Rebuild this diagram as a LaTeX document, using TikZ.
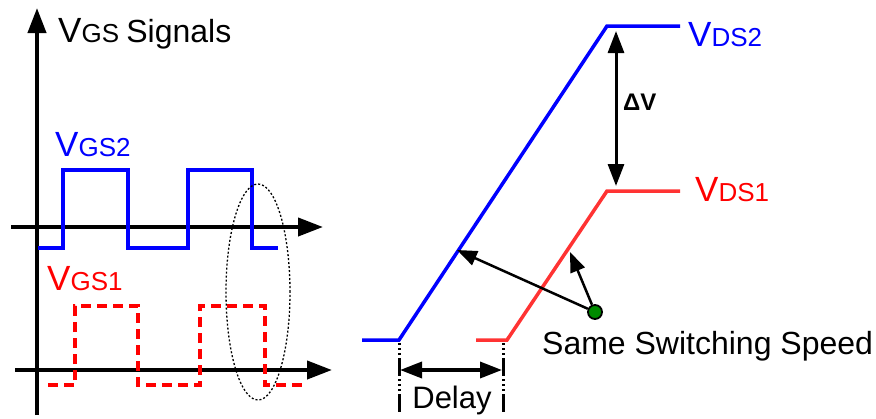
\documentclass[tikz,border=0pt]{standalone}
\usepackage{fontspec}
\setmainfont{Liberation Sans}
\usetikzlibrary{arrows.meta,shapes.geometric}
\definecolor{sigblue}{RGB}{0,0,255}
\definecolor{sigred}{RGB}{255,0,0}
\definecolor{vdsred}{RGB}{255,51,51}
\definecolor{dotgreen}{RGB}{0,140,0}
\newcommand{\bigV}[1]{{\fontsize{35}{40}\selectfont #1}}
\newcommand{\smallsub}[1]{{\fontsize{26}{30}\selectfont #1}}
\begin{document}
\begin{tikzpicture}[x=1pt,y=-1pt,
  axis/.style={line width=4pt,-{Triangle[length=25pt,width=18pt]}},
  blueline/.style={sigblue,line width=3.5pt,line join=miter},
  redline/.style={vdsred,line width=3.5pt},
  reddash/.style={sigred,line width=3.5pt,dash pattern=on 10pt off 6pt},
  dimarrow/.style={line width=3pt,{Triangle[length=22pt,width=16pt]}-{Triangle[length=22pt,width=16pt]}},
  ptrarrow/.style={line width=2.5pt,-{Triangle[length=20pt,width=15pt]}},
  lbl/.style={inner sep=0pt,anchor=base west},
  guide/.style={line width=3pt,dash pattern=on 2pt off 3pt on 2pt off 3pt on 2pt off 3pt on 18pt off 3pt}]
\useasboundingbox (0,0) rectangle (876,418);

% ---- left panel axes
\coordinate (yb) at (37,415);
\coordinate (yt) at (37,8);
\draw[axis] (yb) -- (yt);
\coordinate (a1s) at (11,227);
\coordinate (a1e) at (323,227);
\draw[axis] (a1s) -- (a1e);
\coordinate (a2s) at (15,370);
\coordinate (a2e) at (332,370);
\draw[axis] (a2s) -- (a2e);

% ---- VGS2 (blue)
\draw[blueline] (38,248) -- (63,248) -- (63,170) -- (128,170) -- (128,248) -- (188,248) -- (188,170) -- (252,170) -- (252,248) -- (278,248);
% ---- VGS1 (red dashed)
\draw[reddash] (48,385) -- (75,385) -- (75,306) -- (138,306) -- (138,385) -- (200,385) -- (200,306) -- (265,306) -- (265,385) -- (302,385);

% ---- dotted ellipse
\node[draw,dash pattern=on 2pt off 2pt,line width=1.3pt,ellipse,minimum width=64pt,minimum height=216pt,inner sep=0pt] (ell) at (258,292) {};

% ---- labels left
\node[lbl] (title) at (58,42) {\bigV{V}\smallsub{GS }{\fontsize{32}{36}\selectfont Signals}};
\node[lbl,text=sigblue] (vgs2) at (55,156) {\bigV{V}\smallsub{GS2}};
\node[lbl,text=sigred] (vgs1) at (47,290) {\bigV{V}\smallsub{GS1}};

% ---- right panel: VDS curves
\coordinate (b0) at (362,340);
\coordinate (b1) at (399,340);
\coordinate (b2) at (607,26);
\coordinate (b3) at (680,26);
\draw[blueline] (b0) -- (b1) -- (b2) -- (b3);
\coordinate (r0) at (476,340);
\coordinate (r1) at (507,340);
\coordinate (r2) at (607,191);
\coordinate (r3) at (680,191);
\draw[redline] (r0) -- (r1) -- (r2) -- (r3);

\node[lbl,text=sigblue] (vds2) at (688,46) {\bigV{V}\smallsub{DS2}};
\node[lbl,text=sigred] (vds1) at (695,201) {\bigV{V}\smallsub{DS1}};

% ---- Delta V
\coordinate (dvt) at (616,31);
\coordinate (dvb) at (616,186);
\draw[dimarrow] (dvt) -- (dvb);
\node[lbl,font=\bfseries\fontsize{24}{28}\selectfont] (dv) at (623,110) {ΔV};

% ---- Delay
\coordinate (g1t) at (399,343);
\coordinate (g1b) at (399,412);
\coordinate (g2t) at (503,343);
\coordinate (g2b) at (503,412);
\draw[guide] (g1t) -- (g1b);
\draw[guide] (g2t) -- (g2b);
\coordinate (dl) at (400,370);
\coordinate (dr) at (502,370);
\draw[dimarrow,line width=3.5pt] (dl) -- (dr);
\node[inner sep=0pt,anchor=base,font=\fontsize{31}{36}\selectfont] (delay) at (452,408) {Delay};

% ---- Same switching speed
\node[circle,draw,line width=1.8pt,fill=dotgreen,minimum size=14pt,inner sep=0pt] (dot) at (595,312) {};
\coordinate (pb) at (457,250);
\coordinate (pr) at (570,252);
\draw[ptrarrow] (dot) -- (pb);
\draw[ptrarrow] (dot) -- (pr);
\node[lbl,font=\fontsize{32}{36}\selectfont] (same) at (542,354) {Same Switching Speed};
\end{tikzpicture}
\end{document}
